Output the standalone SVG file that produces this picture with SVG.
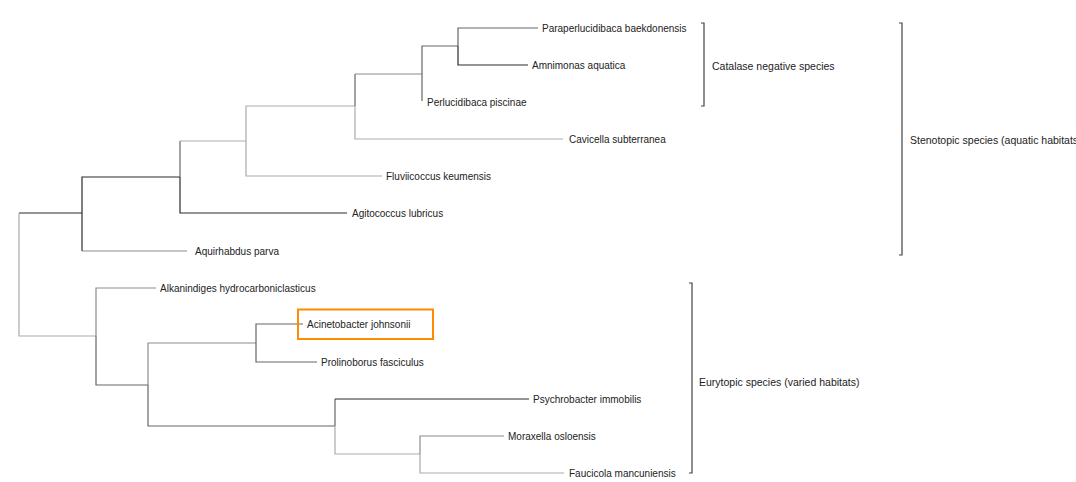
<svg xmlns="http://www.w3.org/2000/svg" width="1076" height="482" viewBox="0 0 1076 482">
<style>
  text { font-family: "Liberation Sans", Arial, sans-serif; font-size: 10px; fill: #222; }
  .lnk { fill: none; stroke-width: 1.2; }
  .d { stroke: #2a2a2a; }
  .m { stroke: #666; }
  .g { stroke: #8c8c8c; }
  .l { stroke: #ababab; }
  .br { fill: none; stroke: #444; stroke-width: 1.2; }
  .cl { font-size: 10.5px; }
  .hl { fill: none; stroke: #ff8c00; stroke-width: 2; }
</style>
<rect width="1076" height="482" fill="#fff"/>
<g id="connectors">
  <path class="lnk d" d="M19,213 H82"/>
  <path class="lnk l" d="M19,213 V336 H96"/>
  <path class="lnk d" d="M82,214 V177 H180"/>
  <path class="lnk d" d="M82,214 V251"/>
  <path class="lnk g" d="M82,251 H187"/>
  <path class="lnk m" d="M180,177 V141"/>
  <path class="lnk l" d="M180,141 H246"/>
  <path class="lnk d" d="M180,177 V213 H347"/>
  <path class="lnk l" d="M246,141 V106 H355"/>
  <path class="lnk l" d="M246,141 V176 H382"/>
  <path class="lnk m" d="M355,106 V74"/>
  <path class="lnk g" d="M355,74 H422"/>
  <path class="lnk l" d="M355,106 V139 H563"/>
  <path class="lnk m" d="M422,74 V46 H458"/>
  <path class="lnk m" d="M422,74 V101"/>
  <path class="lnk m" d="M458,46 V28 H538"/>
  <path class="lnk d" d="M458,46 V65 H528"/>
  <path class="lnk g" d="M96,336 V288 H156"/>
  <path class="lnk m" d="M96,336 V385 H148"/>
  <path class="lnk g" d="M148,385 V343 H256"/>
  <path class="lnk m" d="M148,385 V426 H335"/>
  <path class="lnk m" d="M256,343 V324 H303"/>
  <path class="lnk m" d="M256,343 V362 H317"/>
  <path class="lnk m" d="M335,426 V399"/>
  <path class="lnk d" d="M335,399 H529"/>
  <path class="lnk l" d="M335,426 V454 H420"/>
  <path class="lnk g" d="M420,454 V436 H504"/>
  <path class="lnk l" d="M420,454 V473 H564"/>
</g>
<g id="leaf-paraperlucidibaca"><text x="542" y="31.5">Paraperlucidibaca baekdonensis</text></g>
<g id="leaf-amnimonas"><text x="532" y="68.5">Amnimonas aquatica</text></g>
<g id="leaf-perlucidibaca"><text x="427" y="105.5">Perlucidibaca piscinae</text></g>
<g id="leaf-cavicella"><text x="569" y="142.5">Cavicella subterranea</text></g>
<g id="leaf-fluviicoccus"><text x="386" y="179.5">Fluviicoccus keumensis</text></g>
<g id="leaf-agitococcus"><text x="352" y="216.5">Agitococcus lubricus</text></g>
<g id="leaf-aquirhabdus"><text x="195" y="254.5">Aquirhabdus parva</text></g>
<g id="leaf-alkanindiges"><text x="160" y="291.5">Alkanindiges hydrocarboniclasticus</text></g>
<g id="leaf-acinetobacter">
  <rect class="hl" x="298" y="309.5" width="135" height="29.5"/>
  <text x="307" y="327.5">Acinetobacter johnsonii</text>
</g>
<g id="leaf-prolinoborus"><text x="321" y="365.5">Prolinoborus fasciculus</text></g>
<g id="leaf-psychrobacter"><text x="533" y="402.5">Psychrobacter immobilis</text></g>
<g id="leaf-moraxella"><text x="508" y="439.5">Moraxella osloensis</text></g>
<g id="leaf-faucicola"><text x="569" y="476.5">Faucicola mancuniensis</text></g>
<g id="clade-catalase">
  <path class="br" d="M701,23 H704 V106 H701"/>
  <text class="cl" x="712" y="69.5">Catalase negative species</text>
</g>
<g id="clade-stenotopic">
  <path class="br" d="M899,23 H902 V255 H899"/>
  <text class="cl" x="910" y="143.5">Stenotopic species (aquatic habitats)</text>
</g>
<g id="clade-eurytopic">
  <path class="br" d="M689,283 H692 V473 H689"/>
  <text class="cl" x="699" y="385.5">Eurytopic species (varied habitats)</text>
</g>
</svg>
